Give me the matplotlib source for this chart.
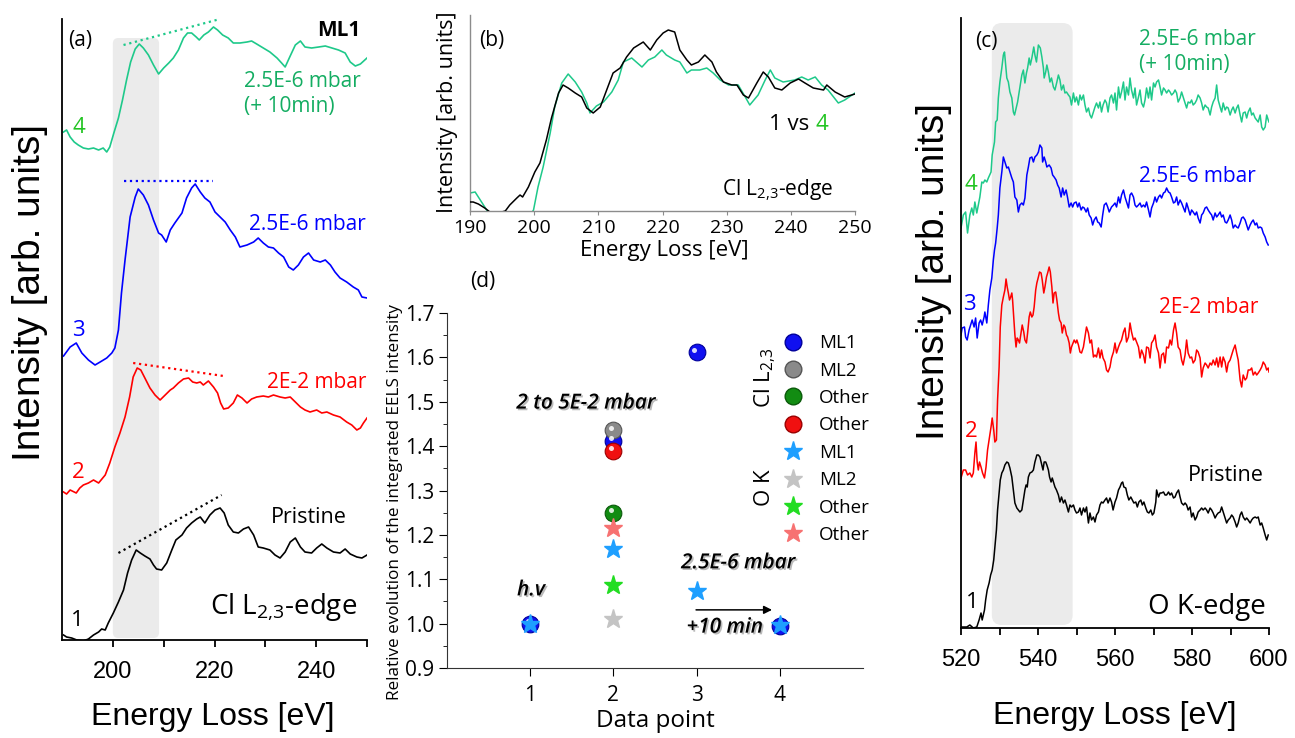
import numpy as np
import matplotlib
matplotlib.use("Agg")
import matplotlib.pyplot as plt
import matplotlib.patheffects as pe
from matplotlib.patches import FancyBboxPatch
from matplotlib.lines import Line2D
from matplotlib.transforms import offset_copy

plt.rcParams['font.family'] = ['Liberation Sans', 'DejaVu Sans']
plt.rcParams['mathtext.fontset'] = 'custom'
plt.rcParams['mathtext.rm'] = 'Open Sans'
SEG = ['Open Sans', 'DejaVu Sans']

# ---------------- data: panel (a), Cl L2,3 edge (energy eV, stacked intensity) --------------
a_pristine = np.array([
    [190.3, 0.05], [190.9, 0.03], [191.9, 0.02], [192.9, 0.0], [194.2, -0.01], [195.2, 0.01],
    [196.2, 0.05], [197.2, 0.08], [197.8, 0.11], [198.5, 0.10], [199.1, 0.17], [200.1, 0.27],
    [201.1, 0.38], [202.1, 0.50], [202.9, 0.67], [203.7, 0.80], [204.6, 0.90], [205.4, 0.87],
    [206.3, 0.84], [207.3, 0.81], [208.0, 0.75], [208.6, 0.71], [209.6, 0.70], [210.6, 0.77],
    [211.6, 0.90], [212.4, 1.00], [213.6, 1.05], [214.5, 1.12], [215.5, 1.17], [216.5, 1.21],
    [217.2, 1.23], [218.1, 1.17], [219.1, 1.25], [220.1, 1.30], [221.1, 1.32], [221.9, 1.27],
    [222.7, 1.15], [223.7, 1.08], [224.7, 1.07], [225.7, 1.11], [226.7, 1.13], [227.7, 1.05],
    [228.6, 0.93], [229.6, 0.92], [230.9, 0.90], [231.9, 0.85], [232.9, 0.82], [233.9, 0.88],
    [234.9, 0.98], [235.9, 1.02], [236.9, 0.93], [237.8, 0.88], [239.1, 0.87], [240.1, 0.92],
    [241.1, 0.96], [242.1, 0.92], [243.4, 0.88], [244.7, 0.87], [245.7, 0.91], [246.7, 0.86],
    [248.0, 0.83], [249.0, 0.82], [250.0, 0.85]])
a_2e2 = np.array([
    [190.3, 1.48], [190.9, 1.46], [191.6, 1.50], [192.8, 1.47], [193.5, 1.52], [194.2, 1.55],
    [195.2, 1.57], [196.2, 1.60], [197.2, 1.57], [198.5, 1.65], [199.4, 1.77], [200.4, 1.93],
    [201.4, 2.07], [202.4, 2.23], [203.3, 2.43], [204.0, 2.63], [204.8, 2.72], [205.5, 2.70],
    [206.3, 2.62], [207.3, 2.52], [208.3, 2.45], [209.3, 2.40], [210.3, 2.45], [211.3, 2.50],
    [211.9, 2.52], [212.9, 2.57], [213.9, 2.61], [214.9, 2.62], [215.7, 2.58], [216.5, 2.57],
    [217.2, 2.58], [217.8, 2.55], [218.8, 2.59], [219.8, 2.53], [220.6, 2.47], [221.2, 2.37],
    [221.8, 2.31], [222.7, 2.32], [223.7, 2.37], [224.5, 2.45], [225.4, 2.42], [226.4, 2.37],
    [227.3, 2.41], [228.3, 2.43], [229.6, 2.44], [230.6, 2.43], [231.6, 2.45], [232.9, 2.43],
    [233.9, 2.42], [234.9, 2.43], [235.9, 2.38], [236.9, 2.33], [237.8, 2.30], [238.8, 2.28],
    [240.1, 2.30], [241.1, 2.27], [242.1, 2.28], [243.4, 2.25], [244.7, 2.23], [246.0, 2.18],
    [247.0, 2.15], [248.0, 2.10], [248.7, 2.12], [249.3, 2.17], [250.0, 2.22]])
a_25e6 = np.array([
    [190.3, 2.84], [191.6, 2.93], [192.8, 2.97], [193.9, 2.87], [195.2, 2.80], [196.5, 2.75],
    [197.5, 2.78], [198.8, 2.82], [199.8, 2.87], [200.4, 2.92], [201.1, 3.10], [201.7, 3.47],
    [202.4, 3.80], [203.4, 4.23], [204.4, 4.43], [205.0, 4.51], [206.0, 4.45], [207.0, 4.35],
    [208.0, 4.20], [209.0, 4.07], [209.6, 4.05], [210.5, 3.98], [211.3, 4.10], [212.2, 4.17],
    [213.6, 4.27], [214.5, 4.42], [215.5, 4.52], [216.2, 4.56], [217.2, 4.48], [218.1, 4.42],
    [219.1, 4.38], [220.1, 4.28], [221.1, 4.23], [222.1, 4.18], [223.1, 4.10], [224.1, 4.03],
    [225.0, 3.93], [226.4, 3.95], [227.7, 3.98], [228.6, 4.02], [229.6, 3.97], [230.6, 3.93],
    [231.6, 3.92], [232.6, 3.87], [233.6, 3.83], [234.6, 3.73], [235.5, 3.70], [236.5, 3.75],
    [237.5, 3.83], [238.5, 3.87], [239.5, 3.80], [240.8, 3.78], [241.8, 3.80], [242.8, 3.75],
    [243.7, 3.68], [244.7, 3.62], [246.0, 3.58], [247.3, 3.53], [248.3, 3.50], [249.0, 3.43],
    [250.0, 3.42]])
a_25e6_10min = np.array([
    [190.3, 5.08], [190.9, 5.10], [191.6, 5.03], [192.4, 4.98], [193.2, 4.95], [194.2, 4.92],
    [195.2, 4.91], [196.2, 4.92], [197.2, 4.90], [198.1, 4.92], [198.8, 4.88], [199.4, 4.93],
    [200.2, 5.07], [201.1, 5.22], [201.9, 5.40], [202.7, 5.60], [203.5, 5.78], [204.4, 5.91],
    [205.2, 5.96], [206.0, 5.92], [207.0, 5.85], [208.0, 5.75], [209.0, 5.66], [210.0, 5.72],
    [211.0, 5.77], [211.9, 5.82], [212.9, 5.90], [213.9, 6.02], [214.7, 6.07], [215.5, 6.07],
    [216.4, 6.03], [217.0, 6.00], [217.9, 6.05], [218.8, 6.08], [219.8, 6.13], [220.6, 6.10],
    [221.6, 6.05], [222.7, 6.02], [223.7, 5.97], [225.0, 5.97], [226.4, 5.98], [227.3, 5.99],
    [228.3, 5.96], [229.6, 5.92], [230.9, 5.88], [232.3, 5.82], [233.2, 5.77], [233.9, 5.73],
    [234.8, 5.83], [235.9, 5.95], [236.9, 5.99], [237.8, 5.93], [239.1, 5.92], [240.5, 5.93],
    [241.8, 5.94], [243.1, 5.92], [244.4, 5.90], [245.7, 5.87], [246.7, 5.78], [247.7, 5.74],
    [248.7, 5.76], [250.0, 5.82]])
# guide lines (start, end) in (a)
a_guides = {
    'pristine': ([201.1, 221.4], [0.87, 1.45]),
    '2e2': ([204.0, 221.8], [2.77, 2.64]),
    '25e6': ([202.2, 219.8], [4.59, 4.59]),
    '10min': ([202.1, 221.1], [5.95, 6.21]),
}

# ---------------- data: panel (b), spectrum 1 vs 4 ----------------
b_pristine = np.array([
    [190.0, 0.09], [190.5, 0.09], [191.3, 0.07], [192.3, 0.03], [193.1, -0.01], [194.4, -0.02],
    [195.5, 0.0], [196.2, 0.06], [197.3, 0.13], [197.8, 0.16], [198.2, 0.14], [199.1, 0.24],
    [200.1, 0.39], [200.9, 0.48], [201.9, 0.71], [202.7, 0.93], [203.8, 1.18], [204.5, 1.26],
    [205.3, 1.23], [206.4, 1.18], [207.4, 1.14], [208.2, 1.03], [209.2, 0.98], [210.3, 1.04],
    [211.3, 1.21], [212.3, 1.38], [213.4, 1.43], [214.4, 1.54], [215.5, 1.63], [217.0, 1.69],
    [218.1, 1.61], [219.1, 1.71], [220.1, 1.78], [220.9, 1.81], [221.9, 1.79], [222.7, 1.61],
    [223.8, 1.51], [224.5, 1.46], [225.6, 1.49], [226.6, 1.56], [227.7, 1.49], [228.4, 1.39],
    [229.5, 1.29], [230.8, 1.26], [231.6, 1.26], [232.6, 1.16], [233.4, 1.13], [234.7, 1.28],
    [235.7, 1.39], [236.5, 1.34], [237.5, 1.23], [238.6, 1.21], [239.9, 1.28], [241.2, 1.32],
    [242.2, 1.28], [243.5, 1.23], [245.1, 1.21], [245.6, 1.26], [246.9, 1.19], [248.4, 1.14],
    [250.0, 1.17]])
b_10min = np.array([
    [190.0, 0.18], [190.8, 0.19], [191.8, 0.09], [192.6, 0.01], [193.4, -0.06], [196.5, -0.15],
    [199.3, -0.05], [199.9, 0.01], [200.6, 0.24], [201.4, 0.44], [202.5, 0.78], [203.2, 1.04],
    [204.3, 1.28], [205.3, 1.37], [206.4, 1.29], [207.4, 1.19], [208.2, 1.08], [208.7, 0.98],
    [209.7, 1.05], [210.8, 1.09], [212.1, 1.19], [213.1, 1.31], [213.9, 1.49], [215.2, 1.53],
    [216.8, 1.44], [217.8, 1.51], [218.8, 1.54], [219.9, 1.61], [220.6, 1.56], [221.9, 1.51],
    [222.7, 1.49], [223.8, 1.38], [224.5, 1.41], [225.8, 1.41], [226.9, 1.43], [227.9, 1.38],
    [229.0, 1.31], [230.3, 1.26], [231.8, 1.26], [232.9, 1.14], [233.6, 1.06], [234.9, 1.16],
    [236.0, 1.31], [236.8, 1.41], [237.5, 1.33], [238.8, 1.29], [240.6, 1.31], [241.7, 1.34],
    [242.7, 1.31], [243.8, 1.34], [244.8, 1.26], [245.8, 1.21], [247.4, 1.08], [248.4, 1.11],
    [250.0, 1.18]])

# ---------------- data: panel (c), O K edge ----------------
c_pristine = np.array([
    [520.2, 0.01], [521.5, 0.01], [522.3, 0.03], [523.2, 0.0], [524.1, 0.01], [524.7, 0.08],
    [525.2, 0.15], [525.5, 0.08], [526.1, 0.18], [526.4, 0.28], [526.8, 0.38], [527.3, 0.45],
    [527.7, 0.53], [528.1, 0.58], [528.5, 0.68], [528.8, 0.81], [529.2, 0.98], [529.5, 1.18],
    [529.9, 1.35], [530.2, 1.48], [530.6, 1.55], [531.0, 1.58], [531.4, 1.63], [531.9, 1.66],
    [532.3, 1.65], [532.7, 1.60], [533.2, 1.51], [533.6, 1.38], [534.0, 1.25], [534.5, 1.20],
    [534.9, 1.18], [535.3, 1.16], [535.8, 1.18], [536.2, 1.28], [536.6, 1.38], [536.9, 1.43],
    [537.2, 1.41], [537.5, 1.51], [537.9, 1.55], [538.4, 1.56], [538.8, 1.58], [539.2, 1.66],
    [539.7, 1.73], [540.1, 1.73], [540.5, 1.71], [541.0, 1.63], [541.3, 1.58], [541.6, 1.66],
    [542.0, 1.66], [542.3, 1.63], [542.7, 1.58], [543.0, 1.51], [543.4, 1.46], [543.7, 1.50],
    [544.1, 1.45], [544.4, 1.41], [544.8, 1.38], [545.3, 1.33], [545.7, 1.26], [546.1, 1.31],
    [546.6, 1.25], [547.0, 1.28], [547.4, 1.23], [547.9, 1.16], [548.3, 1.23], [548.7, 1.21],
    [549.2, 1.23], [549.6, 1.18], [550.0, 1.15], [550.5, 1.16], [550.9, 1.20], [551.3, 1.13],
    [551.8, 1.20], [552.2, 1.16], [552.6, 1.21], [553.1, 1.05], [553.5, 1.15], [553.9, 1.08],
    [554.4, 1.11], [554.8, 1.06], [555.2, 1.13], [555.7, 1.16], [556.1, 1.23], [556.5, 1.26],
    [556.9, 1.25], [557.4, 1.28], [557.8, 1.30], [558.2, 1.25], [558.7, 1.30], [559.1, 1.26],
    [559.5, 1.18], [560.0, 1.26], [560.4, 1.30], [560.9, 1.38], [561.3, 1.41], [561.7, 1.45],
    [562.0, 1.46], [562.3, 1.41], [562.8, 1.40], [563.2, 1.33], [563.6, 1.28], [564.1, 1.31],
    [564.5, 1.28], [564.9, 1.25], [565.4, 1.26], [565.8, 1.21], [566.2, 1.26], [566.7, 1.28],
    [567.1, 1.23], [567.5, 1.26], [568.0, 1.20], [568.4, 1.16], [568.8, 1.15], [569.3, 1.18],
    [569.7, 1.13], [570.1, 1.15], [570.6, 1.26], [570.8, 1.38], [571.3, 1.31], [571.7, 1.35],
    [572.1, 1.35], [572.6, 1.36], [573.0, 1.33], [573.4, 1.33], [573.9, 1.36], [574.3, 1.33],
    [574.7, 1.35], [575.2, 1.30], [575.6, 1.31], [576.0, 1.35], [576.5, 1.38], [576.9, 1.31],
    [577.3, 1.25], [577.8, 1.23], [578.2, 1.25], [578.6, 1.23], [579.0, 1.18], [579.5, 1.21],
    [579.9, 1.11], [580.3, 1.15], [580.8, 1.08], [581.2, 1.11], [581.6, 1.16], [582.1, 1.18],
    [582.5, 1.20], [582.9, 1.18], [583.4, 1.20], [583.8, 1.18], [584.2, 1.15], [584.7, 1.20],
    [585.1, 1.18], [585.5, 1.15], [586.0, 1.10], [586.4, 1.13], [586.8, 1.15], [587.3, 1.16],
    [587.7, 1.21], [588.1, 1.16], [588.6, 1.10], [589.0, 1.05], [589.4, 1.08], [589.9, 1.10],
    [590.3, 1.13], [590.7, 1.11], [591.2, 1.06], [591.6, 1.01], [592.0, 1.05], [592.5, 1.13],
    [592.9, 1.16], [593.3, 1.11], [593.8, 1.08], [594.2, 1.10], [594.6, 1.08], [595.1, 1.05],
    [595.5, 1.08], [595.9, 1.10], [596.4, 1.11], [596.8, 1.10], [597.2, 1.11], [597.7, 1.03],
    [598.1, 1.05], [598.5, 1.00], [599.0, 0.93], [599.4, 0.88], [599.8, 0.93]])
c_2e2 = np.array([
    [520.0, 1.50], [520.6, 1.58], [521.2, 1.58], [521.7, 1.53], [522.3, 1.55], [522.8, 1.51],
    [523.2, 1.55], [523.6, 1.75], [523.9, 1.86], [524.2, 1.66], [524.5, 1.58], [524.8, 1.66],
    [525.2, 1.61], [525.6, 1.55], [526.1, 1.50], [526.5, 1.61], [526.9, 1.78], [527.4, 1.91],
    [527.8, 2.01], [528.1, 2.10], [528.5, 1.98], [528.8, 1.86], [529.2, 1.88], [529.5, 2.28],
    [529.9, 2.61], [530.2, 3.01], [530.6, 3.23], [531.0, 3.31], [531.4, 3.38], [531.7, 3.49],
    [532.0, 3.41], [532.3, 3.35], [532.6, 3.28], [532.9, 3.31], [533.2, 3.35], [533.4, 3.28],
    [533.7, 3.11], [534.0, 2.93], [534.3, 2.81], [534.6, 2.90], [534.9, 2.88], [535.2, 2.85],
    [535.6, 2.95], [535.9, 3.03], [536.3, 2.96], [536.6, 2.88], [537.0, 2.85], [537.3, 2.95],
    [537.7, 3.11], [538.0, 3.16], [538.4, 3.11], [538.7, 3.13], [539.0, 3.21], [539.4, 3.38],
    [539.7, 3.45], [540.1, 3.51], [540.4, 3.56], [540.8, 3.55], [541.1, 3.48], [541.5, 3.35],
    [541.8, 3.41], [542.2, 3.51], [542.5, 3.55], [542.9, 3.61], [543.2, 3.56], [543.6, 3.41],
    [543.9, 3.25], [544.2, 3.35], [544.6, 3.36], [544.9, 3.28], [545.3, 3.15], [545.6, 3.08],
    [546.0, 3.05], [546.3, 2.95], [546.7, 3.03], [547.0, 3.01], [547.4, 2.93], [547.7, 2.91],
    [548.1, 2.85], [548.4, 2.75], [548.7, 2.81], [549.1, 2.85], [549.4, 2.88], [549.8, 2.85],
    [550.1, 2.88], [550.5, 2.83], [550.9, 2.76], [551.3, 2.75], [551.8, 2.81], [552.2, 2.91],
    [552.6, 3.01], [553.1, 2.95], [553.5, 2.85], [553.9, 2.88], [554.4, 2.71], [554.8, 2.73],
    [555.2, 2.71], [555.7, 2.80], [556.1, 2.70], [556.5, 2.78], [556.9, 2.70], [557.4, 2.66],
    [557.8, 2.58], [558.2, 2.56], [558.7, 2.61], [559.1, 2.70], [559.6, 2.76], [560.0, 2.85],
    [560.4, 2.75], [560.9, 2.81], [561.3, 2.85], [561.7, 2.88], [562.2, 2.96], [562.6, 3.00],
    [563.0, 2.86], [563.5, 2.91], [563.9, 3.05], [564.3, 2.96], [564.8, 2.88], [565.2, 2.90],
    [565.6, 2.86], [566.1, 2.81], [566.5, 2.70], [566.9, 2.78], [567.4, 2.73], [567.8, 2.65],
    [568.2, 2.81], [568.7, 2.80], [569.1, 2.70], [569.5, 2.85], [570.0, 2.88], [570.4, 2.93],
    [570.8, 2.81], [571.3, 2.75], [571.7, 2.60], [572.1, 2.73], [572.6, 2.75], [573.0, 2.65],
    [573.4, 2.81], [573.9, 2.80], [574.3, 2.88], [574.7, 2.83], [575.2, 2.98], [575.6, 3.05],
    [576.0, 2.95], [576.4, 2.81], [576.9, 2.78], [577.3, 2.68], [577.7, 2.63], [578.2, 2.73],
    [578.6, 2.88], [579.0, 2.75], [579.5, 2.70], [579.9, 2.71], [580.3, 2.65], [580.8, 2.68],
    [581.2, 2.78], [581.6, 2.76], [582.1, 2.70], [582.5, 2.51], [582.9, 2.60], [583.4, 2.65],
    [583.8, 2.63], [584.2, 2.60], [584.7, 2.65], [585.1, 2.63], [585.5, 2.68], [586.0, 2.63],
    [586.4, 2.70], [586.8, 2.61], [587.3, 2.71], [587.7, 2.61], [588.1, 2.71], [588.6, 2.66],
    [589.0, 2.56], [589.4, 2.65], [589.9, 2.68], [590.3, 2.73], [590.7, 2.78], [591.2, 2.83],
    [591.6, 2.75], [592.0, 2.68], [592.5, 2.48], [592.9, 2.41], [593.3, 2.53], [593.8, 2.48],
    [594.2, 2.50], [594.6, 2.58], [595.1, 2.58], [595.5, 2.60], [595.9, 2.53], [596.4, 2.56],
    [596.8, 2.53], [597.2, 2.55], [597.7, 2.58], [598.1, 2.61], [598.5, 2.66], [599.0, 2.63],
    [599.4, 2.58], [599.8, 2.60], [600.0, 2.56]])
c_25e6 = np.array([
    [520.0, 2.93], [520.3, 3.00], [520.9, 3.01], [521.2, 2.91], [521.6, 2.88], [522.1, 2.98],
    [522.5, 3.03], [522.9, 3.08], [523.4, 3.01], [523.8, 3.10], [524.2, 2.90], [524.7, 3.05],
    [525.1, 3.08], [525.5, 3.03], [526.0, 3.11], [526.2, 3.16], [526.7, 3.05], [527.1, 3.23],
    [527.5, 3.38], [528.0, 3.50], [528.4, 3.68], [528.7, 3.78], [529.0, 3.85], [529.4, 4.00],
    [529.7, 4.13], [530.1, 4.40], [530.6, 4.56], [531.0, 4.71], [531.4, 4.66], [531.9, 4.60],
    [532.3, 4.61], [532.7, 4.56], [533.2, 4.50], [533.6, 4.46], [534.0, 4.31], [534.5, 4.28],
    [534.9, 4.16], [535.3, 4.23], [535.8, 4.25], [536.2, 4.23], [536.6, 4.30], [537.1, 4.53],
    [537.5, 4.61], [537.9, 4.70], [538.4, 4.71], [538.8, 4.66], [539.2, 4.71], [539.7, 4.73],
    [540.1, 4.76], [540.5, 4.83], [541.0, 4.80], [541.2, 4.66], [541.6, 4.71], [542.0, 4.66],
    [542.3, 4.61], [542.9, 4.63], [543.4, 4.60], [543.8, 4.53], [544.2, 4.51], [544.7, 4.48],
    [545.1, 4.43], [545.5, 4.40], [546.0, 4.31], [546.4, 4.40], [546.8, 4.33], [547.3, 4.38],
    [547.7, 4.30], [548.1, 4.21], [548.6, 4.25], [549.0, 4.21], [549.4, 4.25], [549.9, 4.26],
    [550.3, 4.21], [550.7, 4.25], [551.2, 4.18], [551.6, 4.21], [552.0, 4.20], [552.5, 4.16],
    [552.9, 4.20], [553.3, 4.13], [553.8, 4.10], [554.2, 4.03], [554.6, 4.08], [555.1, 4.11],
    [555.5, 4.06], [555.9, 4.05], [556.4, 4.01], [556.8, 4.13], [557.2, 4.23], [557.7, 4.25],
    [558.1, 4.21], [558.5, 4.16], [559.1, 4.21], [559.6, 4.23], [560.0, 4.25], [560.4, 4.21],
    [560.9, 4.31], [561.3, 4.25], [561.7, 4.33], [562.2, 4.38], [562.6, 4.31], [563.0, 4.26],
    [563.5, 4.20], [563.9, 4.33], [564.3, 4.35], [564.8, 4.31], [565.2, 4.23], [565.6, 4.21],
    [566.1, 4.23], [566.5, 4.25], [566.9, 4.21], [567.4, 4.23], [567.8, 4.21], [568.2, 4.26],
    [568.7, 4.18], [569.1, 4.11], [569.5, 4.20], [570.0, 4.25], [570.4, 4.31], [570.8, 4.26],
    [571.3, 4.31], [571.7, 4.33], [572.1, 4.30], [572.6, 4.35], [573.0, 4.36], [573.4, 4.40],
    [573.9, 4.36], [574.3, 4.35], [574.7, 4.31], [575.2, 4.25], [575.6, 4.26], [576.0, 4.31],
    [576.4, 4.23], [576.9, 4.28], [577.3, 4.25], [577.7, 4.21], [578.2, 4.16], [578.6, 4.25],
    [579.0, 4.20], [579.5, 4.13], [579.9, 4.18], [580.3, 4.16], [580.8, 4.13], [581.2, 4.16],
    [581.6, 4.10], [582.1, 4.05], [582.5, 4.13], [582.9, 4.15], [583.4, 4.20], [583.8, 4.21],
    [584.2, 4.18], [584.7, 4.15], [585.1, 4.13], [585.5, 4.08], [586.0, 4.15], [586.4, 4.11],
    [586.8, 4.13], [587.3, 4.16], [587.7, 4.11], [588.1, 4.13], [588.6, 4.06], [589.0, 4.05],
    [589.4, 4.08], [589.9, 4.13], [590.3, 4.08], [590.7, 4.00], [591.2, 4.03], [591.6, 4.01],
    [592.0, 4.00], [592.5, 4.05], [592.9, 4.10], [593.3, 4.11], [593.8, 4.08], [594.2, 4.03],
    [594.6, 3.98], [595.1, 4.03], [595.5, 4.06], [595.9, 4.08], [596.4, 4.03], [596.8, 4.05],
    [597.2, 4.00], [597.7, 4.01], [598.1, 4.00], [598.5, 3.95], [599.0, 3.91], [599.4, 3.86],
    [599.8, 3.83]])
c_25e6_10min = np.array([
    [520.0, 4.00], [520.6, 4.13], [521.2, 4.16], [521.7, 3.95], [522.3, 4.13], [522.8, 4.20],
    [523.2, 4.13], [523.6, 4.26], [524.1, 4.15], [524.5, 4.23], [524.9, 4.31], [525.4, 4.46],
    [525.8, 4.45], [526.2, 4.48], [526.7, 4.46], [527.1, 4.50], [527.8, 4.56], [528.1, 4.73],
    [528.7, 4.86], [529.0, 5.06], [529.4, 5.08], [529.7, 5.30], [530.1, 5.46], [530.6, 5.60],
    [531.0, 5.73], [531.3, 5.76], [531.6, 5.63], [531.9, 5.50], [532.3, 5.46], [532.7, 5.36],
    [533.2, 5.30], [533.6, 5.16], [533.9, 5.13], [534.2, 5.18], [534.7, 5.26], [535.1, 5.36],
    [535.4, 5.43], [535.8, 5.53], [536.2, 5.58], [536.6, 5.45], [537.0, 5.55], [537.3, 5.60],
    [537.7, 5.70], [538.0, 5.63], [538.4, 5.70], [538.9, 5.81], [539.2, 5.73], [539.6, 5.66],
    [540.1, 5.83], [540.6, 5.80], [541.0, 5.71], [541.4, 5.60], [541.6, 5.50], [542.0, 5.56],
    [542.3, 5.63], [542.7, 5.56], [543.1, 5.46], [543.5, 5.50], [544.0, 5.41], [544.4, 5.38],
    [544.9, 5.46], [545.3, 5.53], [545.7, 5.48], [546.1, 5.38], [546.6, 5.43], [547.0, 5.35],
    [547.4, 5.36], [547.9, 5.33], [548.3, 5.31], [548.7, 5.23], [549.2, 5.35], [549.6, 5.26],
    [550.0, 5.31], [550.5, 5.23], [550.9, 5.33], [551.3, 5.28], [551.8, 5.33], [552.2, 5.23],
    [552.6, 5.16], [553.1, 5.20], [553.5, 5.13], [553.9, 5.10], [554.4, 5.16], [554.8, 5.21],
    [555.2, 5.25], [555.7, 5.20], [556.1, 5.26], [556.5, 5.16], [556.9, 5.23], [557.4, 5.28],
    [557.8, 5.25], [558.2, 5.16], [558.7, 5.30], [559.1, 5.33], [559.6, 5.25], [560.0, 5.35],
    [560.4, 5.18], [560.9, 5.41], [561.3, 5.30], [561.7, 5.36], [562.2, 5.46], [562.6, 5.28],
    [563.0, 5.41], [563.5, 5.33], [563.9, 5.50], [564.3, 5.38], [564.8, 5.30], [565.2, 5.40],
    [565.6, 5.23], [566.1, 5.31], [566.5, 5.38], [566.9, 5.25], [567.4, 5.21], [567.8, 5.28],
    [568.2, 5.40], [568.7, 5.30], [569.1, 5.41], [569.5, 5.28], [570.0, 5.45], [570.4, 5.41],
    [570.8, 5.46], [571.3, 5.48], [571.7, 5.41], [572.1, 5.33], [572.6, 5.40], [573.0, 5.38],
    [573.4, 5.35], [573.9, 5.38], [574.3, 5.36], [574.7, 5.33], [575.2, 5.35], [575.6, 5.38],
    [576.0, 5.35], [576.4, 5.26], [576.9, 5.30], [577.3, 5.36], [577.7, 5.31], [578.2, 5.25],
    [578.6, 5.20], [579.0, 5.26], [579.5, 5.25], [579.9, 5.28], [580.3, 5.23], [580.8, 5.25],
    [581.2, 5.28], [581.6, 5.33], [582.1, 5.30], [582.5, 5.25], [582.9, 5.18], [583.4, 5.23],
    [583.8, 5.21], [584.2, 5.20], [584.7, 5.13], [585.1, 5.21], [585.5, 5.26], [586.0, 5.30],
    [586.4, 5.43], [586.8, 5.28], [587.3, 5.21], [587.7, 5.16], [588.1, 5.25], [588.6, 5.18],
    [589.0, 5.21], [589.4, 5.20], [589.9, 5.13], [590.3, 5.18], [590.7, 5.21], [591.2, 5.15],
    [591.6, 5.20], [592.0, 5.23], [592.5, 5.13], [592.9, 5.06], [593.3, 5.15], [593.8, 5.16],
    [594.2, 5.10], [594.6, 5.16], [595.1, 5.20], [595.5, 5.13], [595.9, 5.15], [596.4, 5.10],
    [596.8, 5.08], [597.2, 5.06], [597.7, 5.13], [598.1, 5.01], [598.5, 4.98], [599.0, 5.01],
    [599.4, 5.13], [599.8, 5.08], [600.0, 5.06]])

# ---------------- data: panel (d), relative integrated intensity ----------------
d_points = [1, 2, 3, 4]
cl_ml1 = [1.0, 1.412, 1.612, 0.994]
cl_ml2 = [None, 1.436, None, None]
cl_other_g = [None, 1.25, None, None]
cl_other_r = [None, 1.39, None, None]
ok_ml1 = [1.0, 1.168, 1.074, 0.996]
ok_ml2 = [None, 1.01, None, None]
ok_other_g = [None, 1.088, None, None]
ok_other_r = [None, 1.216, None, None]

GREEN = '#1ec98a'
GTXT = '#14ad62'
LGREEN = '#22c422'
BLUE = '#0000ff'
RED = '#ff0000'

W, H = 1295, 738
fig = plt.figure(figsize=(W / 100, H / 100), dpi=100)


def px_axes(l, t, r, b):
    return fig.add_axes([l / W, 1 - b / H, (r - l) / W, (b - t) / H])


def spectrum_axes(ax, xlim, ylim, majors, minors):
    ax.set_xlim(*xlim)
    ax.set_ylim(*ylim)
    ax.set_xticks(majors)
    ax.set_xticks(minors, minor=True)
    ax.set_yticks([])
    for s in ['top', 'right']:
        ax.spines[s].set_visible(False)
    for s in ['left', 'bottom']:
        ax.spines[s].set_linewidth(1.3)
    ax.tick_params(axis='x', which='both', direction='out', length=5, width=1.3,
                   labelsize=17, pad=10)


def shade(ax, x0, x1, y0, y1, r, aspect):
    ax.add_patch(FancyBboxPatch((x0, y0), x1 - x0, y1 - y0,
                                boxstyle=f"round,pad=0,rounding_size={r}",
                                mutation_aspect=aspect, fc='#ebebeb', ec='none', zorder=0))


CL_EDGE = r'Cl L$_\mathrm{2{,}3}$-edge'

# ===== panel (a) =====
ax = px_axes(62, 19, 367, 640)
spectrum_axes(ax, (190, 250), (0, 6.21), [200, 220, 240], [210, 230, 250])
shade(ax, 200, 209.1, 0.02, 6.02, 1.1, 0.0508)
for arr, col in [(a_pristine, 'black'), (a_2e2, RED), (a_25e6, BLUE), (a_25e6_10min, GREEN)]:
    ax.plot(arr[:, 0], arr[:, 1], color=col, lw=1.2, zorder=2)
for key, col in [('pristine', 'black'), ('2e2', RED), ('25e6', BLUE), ('10min', GREEN)]:
    gx, gy = a_guides[key]
    ax.plot(gx, gy, ls=':', color=col, lw=1.6, clip_on=False, zorder=2)
ax.text(193.5, 6.00, '(a)', fontsize=15, family=SEG, ha='center', va='center')
ax.text(248.7, 6.10, 'ML1', fontsize=15, family=SEG, weight='bold', ha='right', va='center')
ax.text(225.8, 5.46, '2.5E-6 mbar\n(+ 10min)', fontsize=15, family=SEG, color=GTXT,
        ha='left', va='center', linespacing=1.25)
ax.text(249.8, 4.16, '2.5E-6 mbar', fontsize=15, family=SEG, color=BLUE, ha='right', va='center')
ax.text(249.8, 2.58, '2E-2 mbar', fontsize=15, family=SEG, color=RED, ha='right', va='center')
ax.text(246.1, 1.23, 'Pristine', fontsize=15.5, family=SEG, ha='right', va='center')
ax.text(248.1, 0.33, CL_EDGE, fontsize=20, family=SEG, ha='right', va='center')
for xx, yy, lab, col in [(193.3, 5.13, '4', LGREEN), (193.3, 3.10, '3', BLUE),
                         (193.1, 1.68, '2', RED), (193.1, 0.20, '1', 'black')]:
    ax.text(xx, yy, lab, fontsize=16, family=SEG, color=col, ha='center', va='center')
ax.set_xlabel('Energy Loss [eV]', fontsize=23)
ax.xaxis.set_label_coords(0.495, -0.10)
ax.set_ylabel('Intensity [arb. units]', fontsize=28)
ax.yaxis.set_label_coords(-0.045, 0.56)

# ===== panel (b) =====
bx = px_axes(470, 15, 855, 211)
bx.set_xlim(190, 250)
bx.set_ylim(0, 1.96)
bx.set_xticks(np.arange(190, 251, 10))
bx.set_yticks([])
for s in ['top', 'right']:
    bx.spines[s].set_visible(False)
for s in ['left', 'bottom']:
    bx.spines[s].set_color('#8c8c8c')
    bx.spines[s].set_linewidth(1.0)
bx.tick_params(axis='x', direction='out', length=3, color='#8c8c8c', labelsize=14, pad=3)
for lab in bx.get_xticklabels():
    lab.set_fontfamily(SEG)
bx.plot(b_pristine[:, 0], b_pristine[:, 1], color='black', lw=1.1, zorder=3)
bx.plot(b_10min[:, 0], b_10min[:, 1], color=GREEN, lw=1.1, zorder=2)
bx.text(0.057, 0.87, '(b)', transform=bx.transAxes, fontsize=15, family=SEG, ha='center', va='center')
t4 = bx.text(245.8, 0.86, '4', fontsize=16, family=SEG, color=LGREEN, ha='right', va='center')
bx.annotate('1 vs ', xy=(0, 0), xycoords=t4, fontsize=16, family=SEG, ha='right', va='bottom')
bx.text(246.6, 0.21, CL_EDGE, fontsize=15, family=SEG, ha='right', va='center')
bx.set_xlabel('Energy Loss [eV]', fontsize=16, family=SEG)
bx.xaxis.set_label_coords(0.506, -0.15)
bx.set_ylabel('Intensity [arb. units]', fontsize=15.5, family=SEG)
bx.yaxis.set_label_coords(-0.03, 0.505)

# ===== panel (c) =====
cx = px_axes(961, 18, 1269, 628)
spectrum_axes(cx, (520, 600), (0, 6.10), [520, 540, 560, 580, 600], [530, 550, 570, 590])
shade(cx, 528, 549, 0.03, 6.05, 2.6, 0.0385)
for arr, col in [(c_pristine, 'black'), (c_2e2, RED), (c_25e6, BLUE), (c_25e6_10min, GREEN)]:
    cx.plot(arr[:, 0], arr[:, 1], color=col, lw=1.1, zorder=2)
cx.text(526.5, 5.86, '(c)', fontsize=15, family=SEG, ha='center', va='center')
cx.text(566.2, 5.76, '2.5E-6 mbar\n(+ 10min)', fontsize=15, family=SEG, color=GTXT,
        ha='left', va='center', linespacing=1.25)
cx.text(566.2, 4.51, '2.5E-6 mbar', fontsize=15, family=SEG, color=BLUE, ha='left', va='center')
cx.text(571.4, 3.20, '2E-2 mbar', fontsize=15, family=SEG, color=RED, ha='left', va='center')
cx.text(579.0, 1.52, 'Pristine', fontsize=15.5, family=SEG, ha='left', va='center')
cx.text(599.2, 0.21, 'O K-edge', fontsize=20, family=SEG, ha='right', va='center')
for xx, yy, lab, col in [(522.6, 4.43, '4', LGREEN), (522.3, 3.23, '3', BLUE),
                         (522.6, 1.96, '2', RED), (522.9, 0.26, '1', 'black')]:
    cx.text(xx, yy, lab, fontsize=16, family=SEG, color=col, ha='center', va='center')
cx.set_xlabel('Energy Loss [eV]', fontsize=23)
cx.xaxis.set_label_coords(0.5, -0.12)
cx.set_ylabel('Intensity [arb. units]', fontsize=28)
cx.yaxis.set_label_coords(-0.03, 0.584)

# ===== panel (d) =====
dx = px_axes(447, 313, 863, 668)
dx.set_xlim(0, 5)
dx.set_ylim(0.9, 1.7)
dx.set_xticks(d_points)
dx.set_yticks(np.arange(0.9, 1.71, 0.1))
dx.set_yticks(np.arange(0.95, 1.7, 0.1), minor=True)
dx.yaxis.set_major_formatter(matplotlib.ticker.FormatStrFormatter('%.1f'))
for s in ['top', 'right']:
    dx.spines[s].set_visible(False)
for s in ['left', 'bottom']:
    dx.spines[s].set_color('#333333')
dx.tick_params(axis='both', which='major', direction='out', length=6, labelsize=15, pad=3)
dx.tick_params(axis='x', pad=6)
dx.tick_params(axis='y', which='minor', direction='out', length=3)
for lab in dx.get_xticklabels() + dx.get_yticklabels():
    lab.set_fontfamily(SEG)

hl = offset_copy(dx.transData, fig=fig, x=-1.8, y=1.8, units='points')


def spheres(vals, fc, ec):
    xs = [p for p, v in zip(d_points, vals) if v is not None]
    ys = [v for v in vals if v is not None]
    dx.plot(xs, ys, 'o', ms=12, mfc=fc, mec=ec, mew=0.8, ls='none', zorder=3)
    dx.plot(xs, ys, 'o', ms=3.6, mfc='white', mec='none', alpha=0.85, ls='none',
            transform=hl, zorder=4)


def stars(vals, fc):
    xs = [p for p, v in zip(d_points, vals) if v is not None]
    ys = [v for v in vals if v is not None]
    dx.plot(xs, ys, '*', ms=14, mfc=fc, mec=fc, ls='none', zorder=5)


spheres(cl_ml1, '#1010f0', '#00009a')
spheres(cl_ml2, '#8a8a8a', '#555555')
spheres(cl_other_g, '#128c12', '#0a5a0a')
spheres(cl_other_r, '#f01010', '#9a0000')
stars(ok_ml1, '#1e9fff')
stars(ok_ml2, '#c4c4c4')
stars(ok_other_g, '#22dd22')
stars(ok_other_r, '#f77272')

handles = [
    Line2D([], [], marker='o', ls='none', ms=12, mfc='#1010f0', mec='#00009a'),
    Line2D([], [], marker='o', ls='none', ms=12, mfc='#8a8a8a', mec='#555555'),
    Line2D([], [], marker='o', ls='none', ms=12, mfc='#128c12', mec='#0a5a0a'),
    Line2D([], [], marker='o', ls='none', ms=12, mfc='#f01010', mec='#9a0000'),
    Line2D([], [], marker='*', ls='none', ms=14, mfc='#1e9fff', mec='#1e9fff'),
    Line2D([], [], marker='*', ls='none', ms=14, mfc='#c4c4c4', mec='#c4c4c4'),
    Line2D([], [], marker='*', ls='none', ms=14, mfc='#22dd22', mec='#22dd22'),
    Line2D([], [], marker='*', ls='none', ms=14, mfc='#f77272', mec='#f77272'),
]
labels = ['ML1', 'ML2', 'Other', 'Other', 'ML1', 'ML2', 'Other', 'Other']
leg = dx.legend(handles, labels, loc='upper left', bbox_to_anchor=(0.80, 0.94),
                frameon=False, handlelength=1.4, handletextpad=0.7, labelspacing=0.5,
                borderpad=0, borderaxespad=0, prop={'family': SEG, 'size': 13.5})
dx.text(0.764, 0.817, r'Cl L$_\mathrm{2{,}3}$', transform=dx.transAxes, rotation=90,
        fontsize=16, family=SEG, ha='center', va='center')
dx.text(0.764, 0.507, 'O K', transform=dx.transAxes, rotation=90,
        fontsize=16, family=SEG, ha='center', va='center')

shadow = [pe.SimplePatchShadow(offset=(1.2, -1.2), shadow_rgbFace='0.55', alpha=0.6), pe.Normal()]
for xx, yy, s in [(1.67, 1.497, '2 to 5E-2 mbar'), (1.01, 1.076, 'h.v'),
                  (3.50, 1.137, '2.5E-6 mbar'), (3.34, 0.992, '+10 min')]:
    dx.text(xx, yy, s, fontsize=15, family=SEG, style='italic', weight='semibold',
            ha='center', va='center', path_effects=shadow)
dx.annotate('', xy=(3.94, 1.031), xytext=(2.96, 1.031),
            arrowprops=dict(arrowstyle='-|>', color='black', lw=1.1, mutation_scale=12))
dx.text(0.087, 1.09, '(d)', transform=dx.transAxes, fontsize=15, family=SEG, ha='center', va='center')
dx.set_xlabel('Data point', fontsize=17.5, family=SEG)
dx.xaxis.set_label_coords(0.5, -0.115)
dx.set_ylabel('Relative evolution of the integrated EELS intensity', fontsize=12.3, family=SEG)
dx.yaxis.set_label_coords(-0.105, 0.468)

fig.savefig('out.png', dpi=100)
